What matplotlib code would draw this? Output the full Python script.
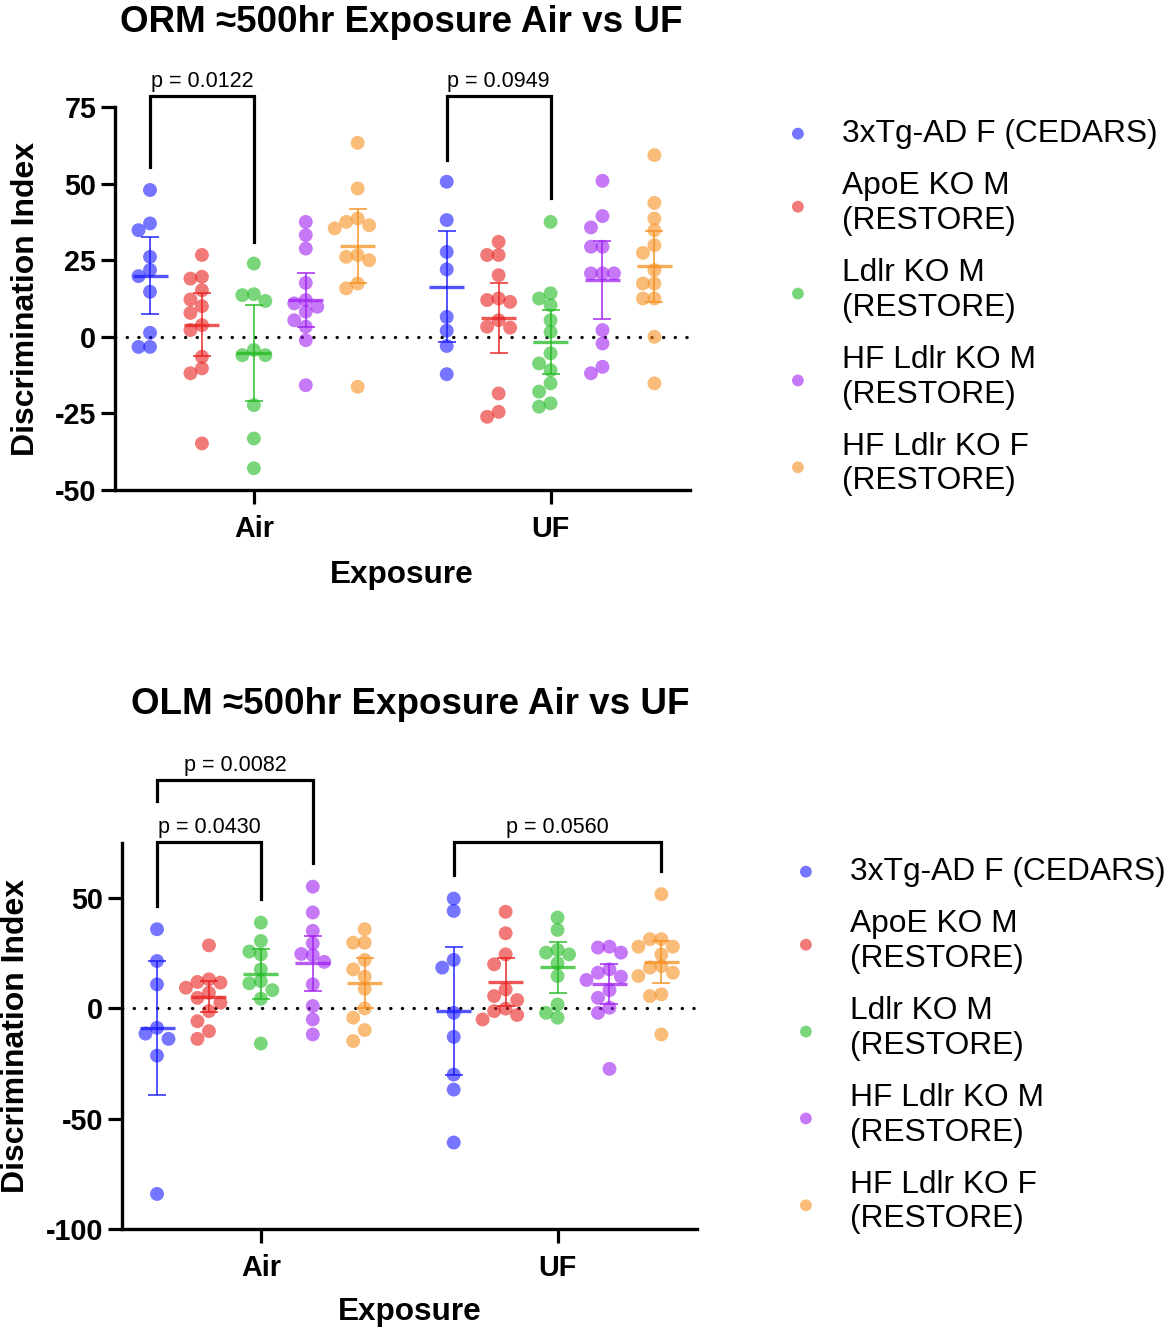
import matplotlib
matplotlib.use('Agg')
import matplotlib.pyplot as plt
import numpy as np

plt.rcParams['font.family'] = ['Liberation Sans', 'DejaVu Sans']

COLORS = ['#1a1aff', '#e8201f', '#22bb22', '#a020f0', '#f59020']
ALPHA = 0.6

labels = ['3xTg-AD F (CEDARS)', 'ApoE KO M\n(RESTORE)', 'Ldlr KO M\n(RESTORE)',
          'HF Ldlr KO M\n(RESTORE)', 'HF Ldlr KO F\n(RESTORE)']
exposures = ['Air', 'UF']

# ── ORM data (discrimination index per animal) ──
orm_air_3xtg = [47.9, 37.0, 34.8, 26.1, 21.8, 19.8, 14.7, 1.3, -3.3, -3.3]
orm_air_apoe = [26.7, 19.6, 19.0, 15.2, 12.2, 10.0, 7.8, 3.8, 2.2, -6.5, -10.3, -11.9, -34.8]
orm_air_ldlr = [23.9, 13.9, 13.6, 11.7, -4.3, -6.0, -6.0, -22.3, -33.2, -42.9]
orm_air_hfm = [37.5, 33.2, 28.8, 17.6, 12.0, 10.9, 9.8, 8.2, 5.4, 3.3, -1.1, -15.8]
orm_air_hff = [63.3, 48.4, 38.6, 37.5, 36.4, 35.4, 26.7, 26.1, 25.0, 17.4, 15.8, -16.3]

orm_uf_3xtg = [50.6, 38.1, 27.7, 22.0, 6.5, 2.0, -3.0, -12.2]
orm_uf_apoe = [31.0, 26.7, 26.7, 20.1, 12.5, 12.0, 11.4, 5.4, 3.3, 3.0, -18.5, -24.5, -26.1]
orm_uf_ldlr = [37.5, 14.2, 12.5, 10.3, 5.4, 1.6, -5.4, -8.7, -10.9, -15.2, -17.9, -21.7, -22.8]
orm_uf_hfm = [50.9, 39.4, 35.7, 29.4, 29.4, 20.7, 20.7, 20.7, 2.2, -2.2, -9.8, -11.9]
orm_uf_hff = [59.3, 43.7, 38.6, 34.8, 29.9, 27.4, 21.8, 17.4, 17.4, 12.5, 12.5, 0.0, -15.2]

orm_air_mean = [19.9, 4.0, -5.3, 12.0, 29.6]
orm_air_ci = [12.6, 10.2, 15.6, 8.7, 12.2]
orm_uf_mean = [16.4, 6.2, -1.7, 18.5, 23.0]
orm_uf_ci = [18.0, 11.4, 10.5, 12.8, 11.6]

# ── OLM data ──
olm_air_3xtg = [35.9, 21.5, 10.9, -8.8, -11.4, -13.8, -21.4, -84.1]
olm_air_apoe = [28.6, 13.2, 12.0, 11.7, 9.4, 7.1, 4.8, 2.6, -1.2, -5.8, -10.3, -13.8]
olm_air_ldlr = [38.9, 30.6, 25.8, 24.5, 17.7, 12.4, 11.4, 8.3, 4.4, -15.9]
olm_air_hfm = [55.2, 43.5, 35.2, 29.5, 24.7, 24.1, 21.1, 10.9, 1.1, -5.0, -11.8]
olm_air_hff = [35.9, 29.8, 29.8, 22.0, 17.7, 14.4, 8.9, 0.0, -4.2, -9.8, -14.8]

olm_uf_3xtg = [49.8, 44.2, 22.0, 18.5, -2.0, -12.9, -30.0, -36.8, -60.8]
olm_uf_apoe = [43.8, 34.1, 24.5, 20.0, 8.6, 5.6, 3.8, -0.1, -1.2, -3.0, -5.0]
olm_uf_ldlr = [41.2, 35.6, 26.5, 25.3, 24.5, 20.5, 14.7, 1.8, -2.0, -4.2]
olm_uf_hfm = [28.0, 27.6, 25.3, 17.7, 16.2, 14.4, 12.9, 8.3, 4.8, 0.3, -2.0, -27.4]
olm_uf_hff = [51.8, 31.4, 31.4, 28.0, 28.0, 24.5, 19.2, 18.5, 16.2, 14.7, 6.4, 5.6, -11.8]

olm_air_mean = [-8.9, 5.4, 15.6, 20.4, 11.5]
olm_air_ci = [30.2, 7.1, 11.5, 12.5, 11.5]
olm_uf_mean = [-1.0, 11.9, 18.6, 10.9, 21.0]
olm_uf_ci = [29.0, 11.0, 11.5, 9.1, 9.6]

# brackets: (exposure, group a, group b, y top, y left end, y right end, text)
orm_brackets = [(0, 0, 2, 78.6, 55.5, 31.0, 'p = 0.0122'),
                (1, 0, 2, 78.6, 57.6, 45.2, 'p = 0.0949')]
olm_brackets = [(0, 0, 2, 75.5, 46.5, 49.5, 'p = 0.0430'),
                (0, 0, 3, 103.6, 94.0, 66.0, 'p = 0.0082'),
                (1, 0, 4, 75.5, 60.5, 62.3, 'p = 0.0560')]

OFFSET = 0.175
HALF_MEAN = 0.059


def swarm_x(ax, xc, vals, step=11.5, gap=11.5):
    disp = ax.transData.transform(np.column_stack([np.full(len(vals), xc), vals]))
    placed = []
    xs = np.empty(len(vals))
    for i in np.argsort(vals)[::-1]:
        px, py = disp[i]
        cx = px
        for k in (0, -1, 1, -2, 2, -3, 3, -4, 4):
            cx = px + k * step
            if all((cx - qx) ** 2 + (py - qy) ** 2 >= gap ** 2 for qx, qy in placed):
                break
        placed.append((cx, py))
        xs[i] = cx
    back = ax.transData.inverted().transform(np.column_stack([xs, disp[:, 1]]))
    return back[:, 0]


def draw_panel(ax, data, means, cis, brackets, ylim, yticks, ylabel_x):
    ax.set_xlim(-0.468, 1.47)
    ax.set_ylim(*ylim)
    handles = []
    for e in range(2):
        for g in range(5):
            xc = e + (g - 2) * OFFSET
            vals = np.array(data[e][g])
            xs = swarm_x(ax, xc, vals)
            h = ax.scatter(xs, vals, s=100, color=COLORS[g], alpha=ALPHA, edgecolors='none', zorder=3)
            if e == 0:
                handles.append(h)
            ax.hlines(means[e][g], xc - HALF_MEAN, xc + HALF_MEAN, color=COLORS[g], lw=2.4, alpha=0.75, zorder=4)
            ax.errorbar(xc, means[e][g], yerr=cis[e][g], fmt='none', ecolor=COLORS[g], elinewidth=1.4,
                        capsize=6.5, capthick=1.4, alpha=0.75, zorder=4)
    ax.axhline(0, color='black', lw=2.3, linestyle=(0, (0.1, 3.55)), dash_capstyle='round', zorder=2)

    for e, a, b, ytop, yl, yr, txt in brackets:
        xa = e + (a - 2) * OFFSET
        xb = e + (b - 2) * OFFSET
        ax.plot([xa, xa, xb, xb], [yl, ytop, ytop, yr], color='black', lw=2.3, clip_on=False,
                solid_joinstyle='miter', zorder=5)
        ax.annotate(txt, xy=((xa + xb) / 2, ytop), xytext=(0, 3), textcoords='offset points',
                    ha='center', va='bottom', fontsize=15.5, annotation_clip=False)

    ax.set_xticks([0, 1])
    ax.set_xticklabels(exposures, fontsize=20.7, fontweight='bold')
    ax.set_yticks(yticks)
    ax.set_yticklabels([str(t) for t in yticks], fontsize=20.7, fontweight='bold')
    ax.tick_params(axis='both', direction='out', length=10, width=2.3, color='black')
    ax.tick_params(axis='x', pad=8)
    ax.tick_params(axis='y', pad=3.5)
    ax.spines['top'].set_visible(False)
    ax.spines['right'].set_visible(False)
    ax.spines['left'].set_linewidth(2.4)
    ax.spines['bottom'].set_linewidth(2.4)
    ax.set_ylabel('Discrimination Index', fontsize=23, fontweight='bold', va='center')
    ax.yaxis.set_label_coords(ylabel_x, 0.5)
    ax.set_xlabel('Exposure', fontsize=22.7, fontweight='bold', va='center')
    return handles


fig = plt.figure(figsize=(11.7, 13.32), dpi=100)
fig.patch.set_facecolor('white')

ax1 = fig.add_axes([115 / 1170, 1 - 490 / 1332, 575 / 1170, 383 / 1332])
orm_data = [[orm_air_3xtg, orm_air_apoe, orm_air_ldlr, orm_air_hfm, orm_air_hff],
            [orm_uf_3xtg, orm_uf_apoe, orm_uf_ldlr, orm_uf_hfm, orm_uf_hff]]
h1 = draw_panel(ax1, orm_data, [orm_air_mean, orm_uf_mean], [orm_air_ci, orm_uf_ci],
                orm_brackets, (-50, 75), [-50, -25, 0, 25, 50, 75], -0.155)
ax1.xaxis.set_label_coords(0.499, -0.222)

ax2 = fig.add_axes([122 / 1170, 1 - 1229 / 1332, 575 / 1170, 386 / 1332])
olm_data = [[olm_air_3xtg, olm_air_apoe, olm_air_ldlr, olm_air_hfm, olm_air_hff],
            [olm_uf_3xtg, olm_uf_apoe, olm_uf_ldlr, olm_uf_hfm, olm_uf_hff]]
h2 = draw_panel(ax2, olm_data, [olm_air_mean, olm_uf_mean], [olm_air_ci, olm_uf_ci],
                olm_brackets, (-100, 75), [-100, -50, 0, 50], -0.185)
ax2.xaxis.set_label_coords(0.50, -0.215)

fig.text(401 / 1170, 1 - 22 / 1332, 'ORM ≈500hr Exposure Air vs UF', ha='center', va='center',
         fontsize=26.5, fontweight='bold')
fig.text(410 / 1170, 1 - 704 / 1332, 'OLM ≈500hr Exposure Air vs UF', ha='center', va='center',
         fontsize=26.5, fontweight='bold')

for handles, anchor in [(h1, (782 / 1170, 1 - 119 / 1332)), (h2, (790 / 1170, 1 - 857 / 1332))]:
    fig.legend(handles, labels, loc='upper left', bbox_to_anchor=anchor, frameon=False,
               fontsize=22.9, handlelength=1.0, handletextpad=0.89, labelspacing=0.7,
               borderpad=0, borderaxespad=0, markerscale=0.85, scatterpoints=1)

plt.savefig('out.png', dpi=100, facecolor='white')
plt.close()
